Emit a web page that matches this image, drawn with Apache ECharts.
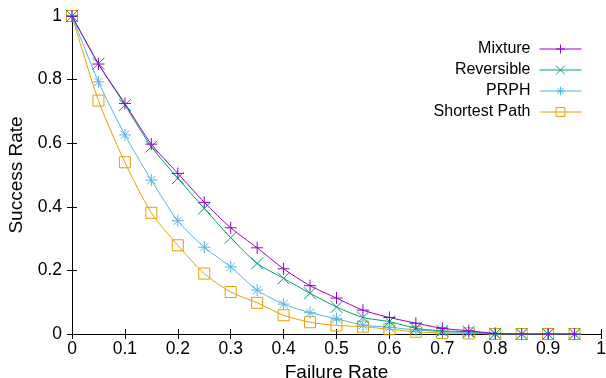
<!DOCTYPE html>
<html>
<head>
<meta charset="utf-8">
<script src="https://cdn.jsdelivr.net/npm/echarts@6/dist/echarts.min.js"></script>
<style>html,body{margin:0;padding:0;background:#fff}#c{width:606px;height:378px}</style>
</head>
<body>
<div id="c"></div>
<script>
var failureRate = [0,0.05,0.1,0.15,0.2,0.25,0.3,0.35,0.4,0.45,0.5,0.55,0.6,0.65,0.7,0.75,0.8,0.85,0.9,0.95];
var mixture     = [1,0.849,0.725,0.597,0.505,0.414,0.334,0.271,0.205,0.152,0.113,0.075,0.052,0.034,0.018,0.01,0.002,0,0,0];
var reversible  = [1,0.85,0.72,0.589,0.49,0.395,0.303,0.222,0.175,0.128,0.085,0.052,0.039,0.018,0.01,0.007,0.001,0,0,0];
var prph        = [1,0.793,0.626,0.484,0.356,0.273,0.211,0.138,0.094,0.067,0.048,0.028,0.021,0.013,0.007,0.004,0,0,0,0];
var shortest    = [1,0.734,0.54,0.381,0.279,0.19,0.132,0.098,0.059,0.037,0.027,0.023,0.015,0.007,0.003,0.002,0,0,0,0];
var xTicks = [0,0.1,0.2,0.3,0.4,0.5,0.6,0.7,0.8,0.9,1];

var names = ['Mixture','Reversible','PRPH','Shortest Path'];
var colors = ['#9400d3','#009e73','#56b4e9','#e69f00'];
var symbols = [
  'path://M0,5H10M5,0V10',
  'path://M0,0L10,10M10,0L0,10',
  'path://M0,5H10M5,0V10M1.5,1.5L8.5,8.5M8.5,1.5L1.5,8.5',
  'rect'
];
var sets = [mixture, reversible, prph, shortest];
var font = 'Liberation Sans, Arial, sans-serif';

function pairs(ys){ return failureRate.map(function(x,i){ return [x, ys[i]]; }); }

var series = sets.map(function(ys, k){
  return {
    name: names[k], type: 'line', data: pairs(ys),
    symbol: symbols[k], symbolSize: k===3 ? 11 : 12,
    smooth: 0.25,
    lineStyle: {color: colors[k], width: 1},
    itemStyle: {color: 'rgba(0,0,0,0)', borderColor: colors[k], borderWidth: 1},
    emphasis: {disabled: true},
    z: 10 - k
  };
});

var chart = echarts.init(document.getElementById('c'), null, {renderer: 'canvas'});
chart.setOption({
  animation: false,
  backgroundColor: '#fff',
  grid: {left: 72, right: 5, top: 16, bottom: 44, containLabel: false, outerBoundsMode: 'none'},
  legend: {
    orient: 'vertical', right: 19, top: 36, align: 'right',
    itemWidth: 42, itemHeight: 11, itemGap: 5,
    textStyle: {fontFamily: font, fontSize: 16, color: '#000', padding: [0, 4, 0, 0]},
    data: names.map(function(n, k){ return {name: n,
      itemStyle: {color: 'rgba(0,0,0,0)', borderColor: colors[k], borderWidth: 1},
      lineStyle: {color: colors[k], width: 1}}; })
  },
  xAxis: [{
    type: 'value', min: 0, max: 1, interval: 0.1,
    name: 'Failure Rate', nameLocation: 'middle', nameGap: 25,
    nameTextStyle: {fontFamily: font, fontSize: 19, color: '#000'},
    axisLine: {show: true, lineStyle: {color: '#000', width: 1}},
    axisTick: {show: true, inside: true, length: 5, lineStyle: {color: '#000'}},
    axisLabel: {fontFamily: font, fontSize: 17.5, color: '#000', margin: 6,
      formatter: function(v){ return String(Math.round(v*10)/10); }},
    splitLine: {show: false}
  },{
    type: 'value', min: 0, max: 1, interval: 0.1, position: 'top',
    axisLine: {show: true, lineStyle: {color: '#000', width: 1}},
    axisTick: {show: true, inside: true, length: 5, lineStyle: {color: '#000'}},
    axisLabel: {show: false}, splitLine: {show: false}
  }],
  yAxis: [{
    type: 'value', min: 0, max: 1, interval: 0.2,
    name: 'Success Rate', nameLocation: 'middle', nameGap: 46, nameRotate: 90,
    nameTextStyle: {fontFamily: font, fontSize: 19, color: '#000'},
    axisLine: {show: true, lineStyle: {color: '#000', width: 1}},
    axisTick: {show: true, inside: true, length: 5, lineStyle: {color: '#000'}},
    axisLabel: {fontFamily: font, fontSize: 17.5, color: '#000', margin: 10,
      formatter: function(v){ return String(Math.round(v*10)/10); }},
    splitLine: {show: false}
  },{
    type: 'value', min: 0, max: 1, interval: 0.2, position: 'right',
    axisLine: {show: true, lineStyle: {color: '#000', width: 1}},
    axisTick: {show: true, inside: true, length: 5, lineStyle: {color: '#000'}},
    axisLabel: {show: false}, splitLine: {show: false}
  }],
  series: series
});
</script>
</body>
</html>
